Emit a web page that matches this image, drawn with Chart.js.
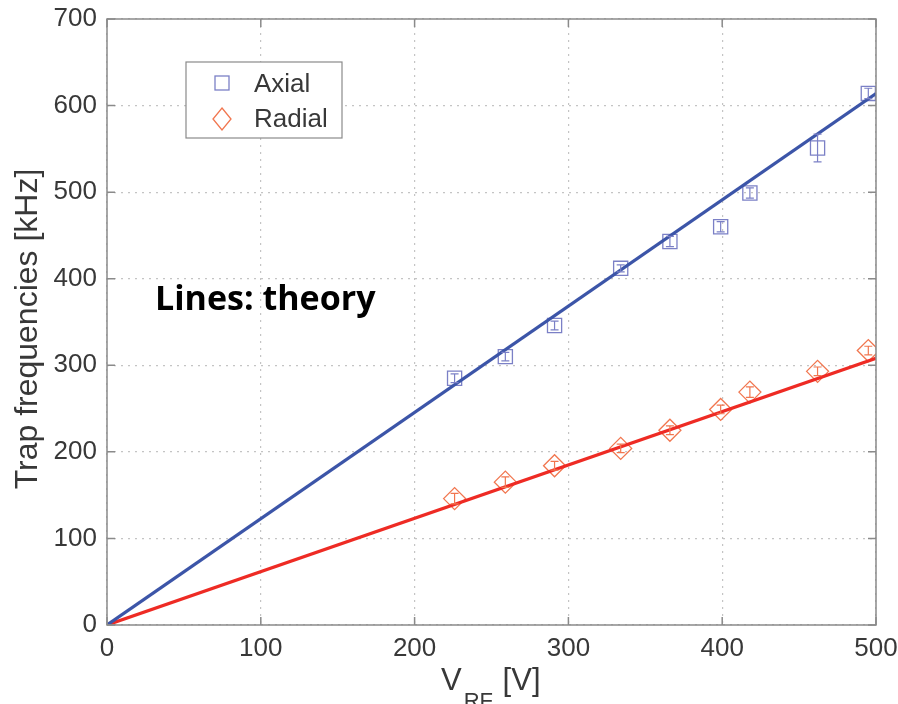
<!DOCTYPE html>
<html>
<head>
<meta charset="utf-8">
<script src="https://cdn.jsdelivr.net/npm/chart.js@4.4.0/dist/chart.umd.min.js"></script>
<style>
html,body{margin:0;padding:0;background:#fff;}
#wrap{width:898px;height:704px;position:relative;}
</style>
</head>
<body>
<div id="wrap"><canvas id="c" width="898" height="704"></canvas></div>
<script>
// ---- data ----
const vrf = [226, 259, 291, 334, 366, 399, 418, 462, 495];
const axial = [285, 310, 346, 412, 443, 460, 499, 551, 614];
const axialErr = [5, 5, 5, 4, 6, 6, 6, 16, 6];
const radial = [146, 165, 184, 204, 225, 249, 269, 293, 317];
const radialErr = [6, 6, 5, 5, 5, 5, 6, 5, 5];
const theoryV = [0, 500];
const axialTheory = [0, 614];
const radialTheory = [0, 308];
const xTicks = [0, 100, 200, 300, 400, 500];
const yTicks = [0, 100, 200, 300, 400, 500, 600, 700];
const labels = {axial: 'Axial', radial: 'Radial', yTitle: 'Trap frequencies [kHz]', xMain: 'V', xSub: 'RF', xUnit: ' [V]', note: 'Lines: theory'};

const AX_C = '#7b80c6', RA_C = '#f1764f', AXL_C = '#3c55a8', RAL_C = '#ee2b24';
const TXT = '#383838';

const pts = (xs, ys) => xs.map((x, i) => ({x: x, y: ys[i]}));

const errPlugin = {
  id: 'errbars',
  afterDatasetsDraw(chart) {
    const ctx = chart.ctx, xs = chart.scales.x, ys = chart.scales.y;
    const sets = [[axial, axialErr, AX_C], [radial, radialErr, RA_C]];
    ctx.save();
    sets.forEach(([vals, errs, col]) => {
      ctx.strokeStyle = col; ctx.lineWidth = 1.2;
      vals.forEach((v, i) => {
        const px = xs.getPixelForValue(vrf[i]);
        const y1 = ys.getPixelForValue(v - errs[i]), y2 = ys.getPixelForValue(v + errs[i]);
        ctx.beginPath();
        ctx.moveTo(px, y1); ctx.lineTo(px, y2);
        ctx.moveTo(px - 4, y1); ctx.lineTo(px + 4, y1);
        ctx.moveTo(px - 4, y2); ctx.lineTo(px + 4, y2);
        ctx.stroke();
      });
    });
    ctx.restore();
  }
};

const framePlugin = {
  id: 'frame',
  afterDraw(chart) {
    const ctx = chart.ctx, a = chart.chartArea, xs = chart.scales.x, ys = chart.scales.y;
    ctx.save();
    ctx.strokeStyle = '#8a8a8a'; ctx.lineWidth = 1.5;
    ctx.strokeRect(a.left, a.top, a.right - a.left, a.bottom - a.top);
    ctx.beginPath();
    const tl = 8;
    xTicks.forEach(v => {
      const p = xs.getPixelForValue(v);
      ctx.moveTo(p, a.bottom); ctx.lineTo(p, a.bottom - tl);
      ctx.moveTo(p, a.top); ctx.lineTo(p, a.top + tl);
    });
    yTicks.forEach(v => {
      const p = ys.getPixelForValue(v);
      ctx.moveTo(a.left, p); ctx.lineTo(a.left + tl, p);
      ctx.moveTo(a.right, p); ctx.lineTo(a.right - tl, p);
    });
    ctx.stroke();

    // axis titles
    ctx.fillStyle = TXT;
    ctx.font = '32px "Liberation Sans", Arial, sans-serif';
    ctx.save();
    ctx.translate(37, 329);
    ctx.rotate(-Math.PI / 2);
    ctx.textAlign = 'center'; ctx.textBaseline = 'alphabetic';
    ctx.fillText(labels.yTitle, 0, 0);
    ctx.restore();

    ctx.textAlign = 'left'; ctx.textBaseline = 'alphabetic';
    ctx.font = '31px "Liberation Sans", Arial, sans-serif';
    ctx.fillText(labels.xMain, 441, 690);
    const w1 = ctx.measureText(labels.xMain).width;
    ctx.font = '22px "Liberation Sans", Arial, sans-serif';
    ctx.fillText(labels.xSub, 441 + w1 + 2, 708);
    const w2 = ctx.measureText(labels.xSub).width;
    ctx.font = '31px "Liberation Sans", Arial, sans-serif';
    ctx.fillText(labels.xUnit, 441 + w1 + 2 + w2 + 1, 690);

    // note
    ctx.fillStyle = '#000';
    ctx.font = 'bold 34px "Open Sans", sans-serif';
    ctx.fillText(labels.note, 155, 310);

    // legend
    ctx.fillStyle = '#fff';
    ctx.fillRect(186, 62, 156, 76);
    ctx.strokeStyle = '#8a8a8a'; ctx.lineWidth = 1.2;
    ctx.strokeRect(186, 62, 156, 76);
    ctx.strokeStyle = AX_C; ctx.lineWidth = 1.3;
    ctx.strokeRect(215, 76, 14, 14);
    ctx.strokeStyle = RA_C;
    ctx.beginPath();
    ctx.moveTo(222, 108); ctx.lineTo(231, 119); ctx.lineTo(222, 130); ctx.lineTo(213, 119); ctx.closePath();
    ctx.stroke();
    ctx.fillStyle = TXT;
    ctx.font = '26px "Liberation Sans", Arial, sans-serif';
    ctx.fillText(labels.axial, 254, 92);
    ctx.fillText(labels.radial, 254, 127);
    ctx.restore();
  }
};

new Chart(document.getElementById('c'), {
  type: 'scatter',
  data: {
    datasets: [
      {label: 'Axial theory', data: pts(theoryV, axialTheory), showLine: true, borderColor: AXL_C, borderWidth: 3.2, pointRadius: 0, order: 1},
      {label: 'Radial theory', data: pts(theoryV, radialTheory), showLine: true, borderColor: RAL_C, borderWidth: 3.2, pointRadius: 0, order: 2},
      {label: labels.axial, data: pts(vrf, axial), pointStyle: 'rect', pointRadius: 10, borderColor: AX_C, backgroundColor: 'rgba(0,0,0,0)', borderWidth: 1.3, order: 3},
      {label: labels.radial, data: pts(vrf, radial), pointStyle: 'rectRot', pointRadius: 11, borderColor: RA_C, backgroundColor: 'rgba(0,0,0,0)', borderWidth: 1.3, order: 4}
    ]
  },
  options: {
    responsive: false,
    animation: false,
    layout: {padding: {top: 19, right: 22, left: 0, bottom: 0}},
    plugins: {legend: {display: false}, tooltip: {enabled: false}},
    scales: {
      x: {
        type: 'linear', min: 0, max: 500,
        afterFit(s) { s.height = 79; s.paddingLeft = 0; s.paddingRight = 0; },
        afterBuildTicks(s) { s.ticks = xTicks.map(v => ({value: v})); },
        ticks: {color: TXT, font: {family: '"Liberation Sans", Arial, sans-serif', size: 26}, padding: 8, maxRotation: 0},
        grid: {color: '#c4c4c4', lineWidth: 1.2, drawTicks: false},
        border: {display: false, dash: [2, 5]}
      },
      y: {
        type: 'linear', min: 0, max: 700,
        afterFit(s) { s.width = 107; s.paddingTop = 0; s.paddingBottom = 0; },
        afterBuildTicks(s) { s.ticks = yTicks.map(v => ({value: v})); },
        ticks: {color: TXT, font: {family: '"Liberation Sans", Arial, sans-serif', size: 26}, padding: 10},
        grid: {color: '#c4c4c4', lineWidth: 1.2, drawTicks: false},
        border: {display: false, dash: [2, 5]}
      }
    }
  },
  plugins: [errPlugin, framePlugin]
});
</script>
</body>
</html>
